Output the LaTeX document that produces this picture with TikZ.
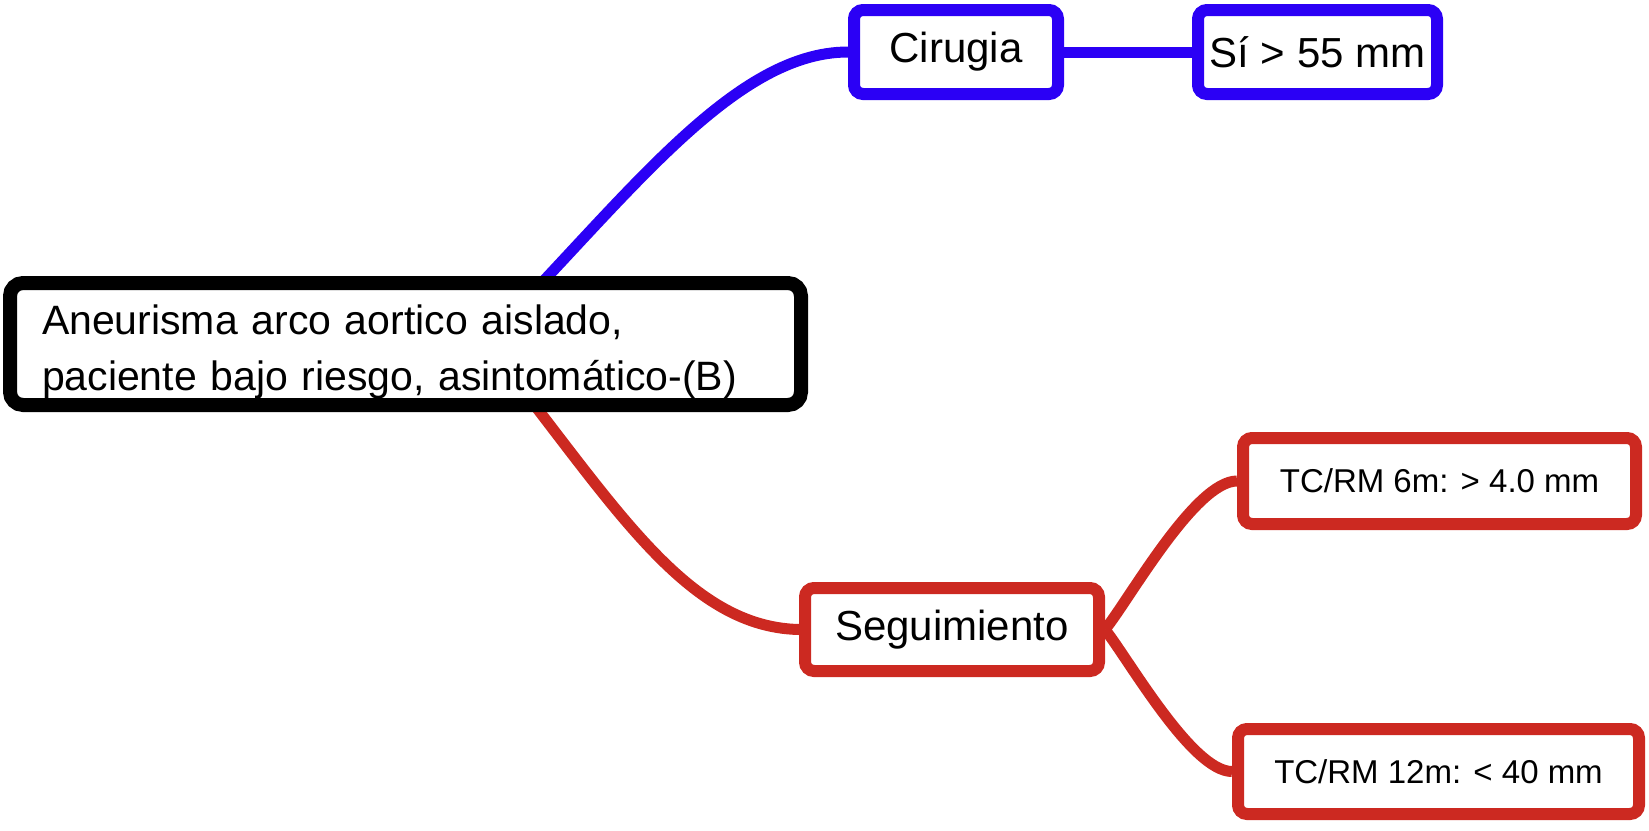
\documentclass[tikz,border=0pt]{standalone}
\usepackage{fontspec}
\setmainfont{Liberation Sans}
\definecolor{mblue}{RGB}{43,0,245}
\definecolor{mred}{RGB}{204,41,33}
\pgfdeclarelayer{bg}
\pgfsetlayers{bg,main}
\begin{document}
\begin{tikzpicture}[x=1pt,y=-1pt,
  box/.style={draw, fill=white, rounded corners=9pt, line width=12pt, inner sep=0pt,
    text=black, font=\fontsize{42}{57}\selectfont},
  smallbox/.style={box, font=\fontsize{33}{40}\selectfont},
  mainbox/.style={box, draw=black, line width=14pt, rounded corners=13pt},
  conn/.style={line width=11pt}]
\useasboundingbox (0,0) rectangle (1649,830);

\node[mainbox, minimum width=791pt, minimum height=122pt, text width=727pt, align=left,
  font=\fontsize{41}{56}\selectfont]
  (main) at (405.5,344) {\rule{0pt}{45pt}Aneurisma arco aortico aislado,\\paciente bajo riesgo, asintomático-(B)};
\node[box, draw=mblue, minimum width=204pt, minimum height=84pt] (cir) at (956,52) {Cirugia};
\node[box, draw=mblue, minimum width=239pt, minimum height=84pt] (si) at (1317.5,52) {Sí \textgreater{} 55 mm};
\node[box, draw=mred, minimum width=294pt, minimum height=83pt] (seg) at (952,629.5) {Seguimiento};
\node[smallbox, draw=mred, minimum width=393pt, minimum height=86pt] (tc6) at (1439.5,481) {TC/RM 6m: \textgreater{} 4.0 mm};
\node[smallbox, draw=mred, minimum width=401pt, minimum height=85pt] (tc12) at (1438.5,771.5) {TC/RM 12m: \textless{} 40 mm};

\begin{pgfonlayer}{bg}
\coordinate (bs) at (480,347);
\coordinate (rs) at (480,336);
\draw[conn, mblue] (bs) .. controls (621,206) and (730,52) .. (cir.west);
\draw[conn, mblue] (cir.east) -- (si.west);
\draw[conn, mred] (rs) .. controls (606,490) and (680,627) .. (seg.west);
\draw[conn, mred] (seg.east) .. controls (1129,600) and (1195,481) .. (tc6.west);
\draw[conn, mred] (seg.east) .. controls (1129,660) and (1192,771.5) .. (tc12.west);
\end{pgfonlayer}
\end{tikzpicture}
\end{document}
